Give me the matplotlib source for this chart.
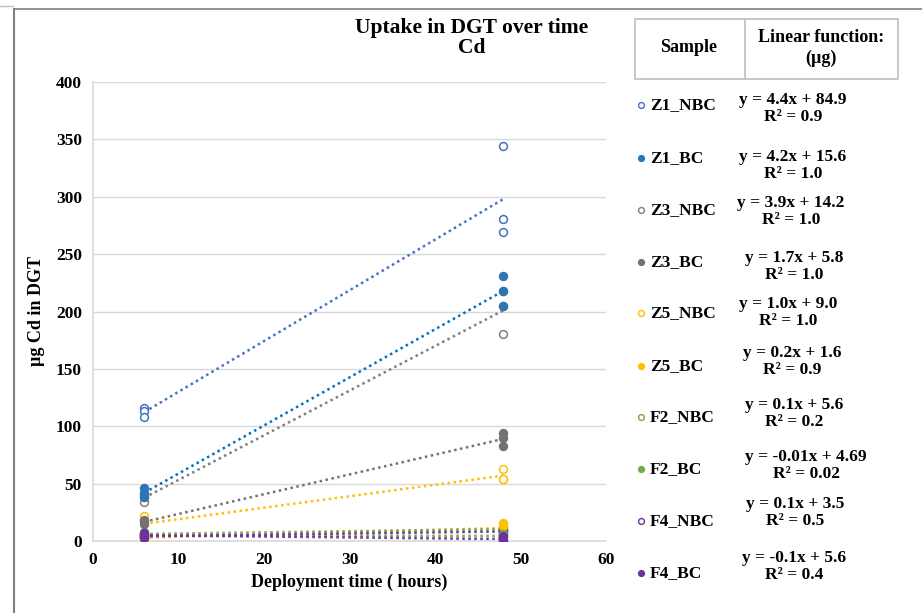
import numpy as np
import matplotlib
matplotlib.use("Agg")
import matplotlib.pyplot as plt
from matplotlib.lines import Line2D
from matplotlib.patches import Rectangle

plt.rcParams['font.family'] = ['Liberation Serif', 'DejaVu Serif']
plt.rcParams['font.weight'] = 'bold'

# ---------------- data ----------------
samples = ["Z1_NBC", "Z1_BC", "Z3_NBC", "Z3_BC", "Z5_NBC", "Z5_BC",
           "F2_NBC", "F2_BC", "F4_NBC", "F4_BC"]
filled = [False, True, False, True, False, True, False, True, False, True]
colors = ["#4472C4", "#2E75B6", "#7F7F7F", "#767171", "#FFC000", "#FFC000",
          "#70AD47", "#70AD47", "#7030A0", "#7030A0"]
trend_colors = ["#4472C4", "#0070C0", "#7F7F7F", "#767171", "#FFC000", "#FFC000",
                "#70AD47", "#70AD47", "#7030A0", "#7030A0"]

time_h = [6, 6, 6, 48, 48, 48]
z1_nbc = [116, 113, 108, 344, 281, 269]
z1_bc = [46, 42, 38, 231, 218, 205]
z3_nbc = [34, 38, 41, 180, 205, 218]
z3_bc = [15, 17, 18, 94, 90, 83]
z5_nbc = [22, 17, 6, 63, 54, 54]
z5_bc = [3, 2, 3.5, 16, 13, 5]
f2_nbc = [6, 8, 4.5, 10, 12, 9]
f2_bc = [4.6, 6, 3.4, 4.2, 6, 3.2]
f4_nbc = [4, 5, 3.3, 8, 10, 7]
f4_bc = [5, 7, 3, 1, 4, 0]
series = [z1_nbc, z1_bc, z3_nbc, z3_bc, z5_nbc, z5_bc, f2_nbc, f2_bc, f4_nbc, f4_bc]

equations = ["y = 4.4x + 84.9", "y = 4.2x + 15.6", "y = 3.9x + 14.2", "y = 1.7x + 5.8",
             "y = 1.0x + 9.0", "y = 0.2x + 1.6", "y = 0.1x + 5.6", "y = -0.01x + 4.69",
             "y = 0.1x + 3.5", "y = -0.1x + 5.6"]
r2_values = ["0.9", "1.0", "1.0", "1.0", "1.0", "0.9", "0.2", "0.02", "0.5", "0.4"]

x_ticks = [0, 10, 20, 30, 40, 50, 60]
y_ticks = [0, 50, 100, 150, 200, 250, 300, 350, 400]

# ---------------- figure ----------------
W, H = 922, 613
fig = plt.figure(figsize=(W / 100, H / 100), dpi=100)

def fx(px):
    return px / W

def fy(py):
    return 1 - py / H

ax = fig.add_axes([fx(93), fy(541), fx(606) - fx(93), fy(82) - fy(541)])
ax.set_xlim(0, 60)
ax.set_ylim(0, 400)
ax.set_xticks(x_ticks)
ax.set_yticks(y_ticks)
ax.grid(axis='y', color='#D9D9D9', linewidth=1)
ax.set_axisbelow(True)
for s in ['top', 'right']:
    ax.spines[s].set_visible(False)
for s in ['left', 'bottom']:
    ax.spines[s].set_color('#D9D9D9')
    ax.spines[s].set_linewidth(1.2)
ax.tick_params(length=0, labelsize=12.5, pad=8)
for lab in ax.get_xticklabels() + ax.get_yticklabels():
    lab.set_fontweight('bold')
ax.set_xlabel("Deployment time ( hours)", fontsize=13, fontweight='bold', labelpad=4)
ax.set_ylabel("µg Cd in DGT", fontsize=13, fontweight='bold', labelpad=8)

xarr = np.array(time_h, dtype=float)
for vals, fil, c, tc in zip(series, filled, colors, trend_colors):
    yarr = np.array(vals, dtype=float)
    ax.scatter(xarr, yarr, s=32, facecolors=c if fil else 'white', edgecolors=c,
               linewidths=1.1, zorder=4 if fil else 3)
    k, b = np.polyfit(xarr, yarr, 1)
    xl = np.array([xarr.min(), xarr.max()])
    ax.plot(xl, k * xl + b, color=tc, linestyle=(0, (1, 1.4)), linewidth=1.8, zorder=2)

# title
fig.text(fx(472), fy(28), "Uptake in DGT over time", ha='center', va='center',
         fontsize=15.5, fontweight='bold')
fig.text(fx(472), fy(48), "Cd", ha='center', va='center', fontsize=15.5, fontweight='bold')

# outer border lines
fig.add_artist(Line2D([fx(14), fx(14)], [fy(9), fy(613)], transform=fig.transFigure,
                      color='#7F7F7F', linewidth=1.5))
fig.add_artist(Line2D([fx(14), fx(922)], [fy(9), fy(9)], transform=fig.transFigure,
                      color='#7F7F7F', linewidth=1.2))
fig.add_artist(Line2D([0, fx(13)], [fy(6), fy(6)], transform=fig.transFigure,
                      color='#BFBFBF', linewidth=1))

# header table
fig.add_artist(Rectangle((fx(635), fy(79)), fx(898) - fx(635), fy(19) - fy(79),
                         transform=fig.transFigure, fill=False, edgecolor='#BFBFBF',
                         linewidth=1.2))
fig.add_artist(Line2D([fx(745), fx(745)], [fy(19), fy(79)], transform=fig.transFigure,
                      color='#BFBFBF', linewidth=1.2))
fig.text(fx(689), fy(48), "Sample", ha='center', va='center', fontsize=13, fontweight='bold')
fig.text(fx(821), fy(38), "Linear function:", ha='center', va='center', fontsize=13,
         fontweight='bold')
fig.text(fx(821), fy(58), "(µg)", ha='center', va='center', fontsize=13, fontweight='bold')

# legend rows
row_y = [105, 158, 210, 262, 313, 366, 417, 469, 521, 573]
eq_y1 = [100, 157, 203, 258, 304, 353, 405, 457, 504, 558]
eq_cx = [793, 793, 791, 794, 788, 792, 794, 806, 795, 794]
for i in range(len(samples)):
    c = colors[i]
    fig.add_artist(Line2D([fx(641)], [fy(row_y[i])], transform=fig.transFigure,
                          marker='o', markersize=4.2,
                          markerfacecolor=c if filled[i] else 'white',
                          markeredgecolor=c, markeredgewidth=1.0, linestyle='none'))
    fig.text(fx(650), fy(row_y[i]), samples[i], ha='left', va='center', fontsize=12.5,
             fontweight='bold')
    fig.text(fx(eq_cx[i]), fy(eq_y1[i]), equations[i], ha='center', va='center',
             fontsize=12.5, fontweight='bold')
    fig.text(fx(eq_cx[i]), fy(eq_y1[i] + 17), "R² = " + r2_values[i], ha='center',
             va='center', fontsize=12.5, fontweight='bold')

fig.savefig("out.png", dpi=100)
